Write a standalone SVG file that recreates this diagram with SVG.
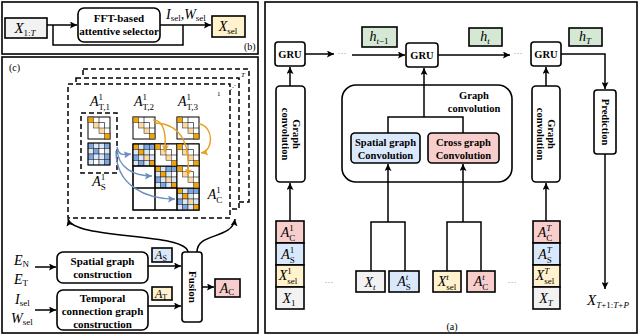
<svg xmlns="http://www.w3.org/2000/svg" width="640" height="336" viewBox="0 0 640 336">
<defs>
<style>
.pan{fill:none;stroke:#000;stroke-width:1.6}
.bx{fill:#fff;stroke:#000;stroke-width:1.6}
.ln{fill:none;stroke:#000;stroke-width:1.5}
.bl{fill:none;stroke:#6c8ebf;stroke-width:1.4}
.or{fill:none;stroke:#e8a020;stroke-width:1.4}
.t{font-family:"Liberation Serif",serif;font-weight:bold;text-anchor:middle;fill:#000}
.m{font-family:"Liberation Serif",serif;font-style:italic;text-anchor:middle;fill:#000}
.ms{font-family:"Liberation Serif",serif;font-style:italic;text-anchor:start;fill:#000}
.r{font-style:normal}
.lab{font-family:"Liberation Serif",serif;fill:#000}
.d{stroke:#000;stroke-width:1.5;stroke-dasharray:5 3}
.gy{fill:#f2f2f2}
.bu{fill:#dae8fc}
.ye{fill:#fff2cc}
.pk{fill:#f8cecc}
.gr{fill:#d5e8d4}
.c{stroke:#222;stroke-width:0.5}
.O{fill:#f0a30a}.LO{fill:#fdd9a0}.B{fill:#7ea6e0}.LB{fill:#dae8fc}.W{fill:#fff}
</style>
<marker id="ah" viewBox="0 0 10 10" refX="10" refY="5" markerWidth="7" markerHeight="7" markerUnits="userSpaceOnUse" orient="auto"><path d="M0,0 L10,5 L0,10 L2,5 z" fill="#000"/></marker>
<marker id="ahb" viewBox="0 0 10 10" refX="10" refY="5" markerWidth="7" markerHeight="7" markerUnits="userSpaceOnUse" orient="auto"><path d="M0,0 L10,5 L0,10 L2,5 z" fill="#6c8ebf"/></marker>
<marker id="aho" viewBox="0 0 10 10" refX="10" refY="5" markerWidth="7" markerHeight="7" markerUnits="userSpaceOnUse" orient="auto"><path d="M0,0 L10,5 L0,10 L2,5 z" fill="#e8a020"/></marker>
<g id="mT">
<rect x="0" y="0" width="22" height="22" fill="#fff" stroke="#000" stroke-width="1"/>
<rect class="O c" x="0" y="0" width="5.5" height="5.5"/>
<rect class="LO c" x="5.5" y="5.5" width="5.5" height="5.5"/>
<rect class="LO c" x="11" y="11" width="5.5" height="5.5"/>
<rect class="O c" x="16.5" y="16.5" width="5.5" height="5.5"/>
<path d="M11,0 V5.5 H16.5 V11 H22" fill="none" stroke="#000" stroke-width="0.6"/>
</g>
<g id="mS">
<rect class="B c" x="0" y="0" width="5.5" height="5.5"/><rect class="LB c" x="5.5" y="0" width="5.5" height="5.5"/><rect class="LB c" x="11" y="0" width="5.5" height="5.5"/><rect class="B c" x="16.5" y="0" width="5.5" height="5.5"/>
<rect class="LB c" x="0" y="5.5" width="5.5" height="5.5"/><rect class="B c" x="5.5" y="5.5" width="5.5" height="5.5"/><rect class="W c" x="11" y="5.5" width="5.5" height="5.5"/><rect class="LB c" x="16.5" y="5.5" width="5.5" height="5.5"/>
<rect class="B c" x="0" y="11" width="5.5" height="5.5"/><rect class="LB c" x="5.5" y="11" width="5.5" height="5.5"/><rect class="LB c" x="11" y="11" width="5.5" height="5.5"/><rect class="B c" x="16.5" y="11" width="5.5" height="5.5"/>
<rect class="LB c" x="0" y="16.5" width="5.5" height="5.5"/><rect class="W c" x="5.5" y="16.5" width="5.5" height="5.5"/><rect class="LB c" x="11" y="16.5" width="5.5" height="5.5"/><rect class="B c" x="16.5" y="16.5" width="5.5" height="5.5"/>
<rect x="0" y="0" width="22" height="22" fill="none" stroke="#000" stroke-width="1"/>
</g>
<g id="mC">
<rect class="O c" x="0" y="0" width="5.5" height="5.5"/><rect class="LB c" x="5.5" y="0" width="5.5" height="5.5"/><rect class="B c" x="11" y="0" width="5.5" height="5.5"/><rect class="B c" x="16.5" y="0" width="5.5" height="5.5"/>
<rect class="LB c" x="0" y="5.5" width="5.5" height="5.5"/><rect class="O c" x="5.5" y="5.5" width="5.5" height="5.5"/><rect class="LB c" x="11" y="5.5" width="5.5" height="5.5"/><rect class="W c" x="16.5" y="5.5" width="5.5" height="5.5"/>
<rect class="B c" x="0" y="11" width="5.5" height="5.5"/><rect class="LB c" x="5.5" y="11" width="5.5" height="5.5"/><rect class="LO c" x="11" y="11" width="5.5" height="5.5"/><rect class="LB c" x="16.5" y="11" width="5.5" height="5.5"/>
<rect class="LB c" x="0" y="16.5" width="5.5" height="5.5"/><rect class="B c" x="5.5" y="16.5" width="5.5" height="5.5"/><rect class="LB c" x="11" y="16.5" width="5.5" height="5.5"/><rect class="O c" x="16.5" y="16.5" width="5.5" height="5.5"/>
<rect x="0" y="0" width="22" height="22" fill="none" stroke="#000" stroke-width="1"/>
</g>
</defs>

<!-- Panel (b) -->
<g id="panel-b">
<rect class="pan" x="2" y="2" width="256" height="52"/>
<text class="lab" x="244" y="50" font-size="10">(b)</text>
</g>
<g id="node-x1T"><rect class="bx gy" x="5" y="18" width="42" height="20"/><text class="m" x="25" y="33" font-size="15">X<tspan font-size="9" dy="3"><tspan class="r">1:</tspan>T</tspan></text></g>
<g id="node-fft"><rect class="bx" x="78" y="8" width="82" height="34" rx="6"/><text class="t" x="119" y="22" font-size="11">FFT-based</text><text class="t" x="119" y="35" font-size="11">attentive selector</text></g>
<g id="node-xsel"><rect class="bx ye" x="212" y="16" width="33" height="21"/><text class="m" x="228" y="31" font-size="14">X<tspan class="r" font-size="9" dy="3">sel</tspan></text></g>
<text class="ms" x="166" y="19" font-size="14">I<tspan class="r" font-size="9" dy="2">sel</tspan><tspan class="r" dy="-2">,</tspan>W<tspan class="r" font-size="9" dy="2">sel</tspan></text>

<!-- Panel (c) -->
<g id="panel-c">
<rect class="pan" x="2" y="57" width="256" height="276"/>
<text class="lab" x="9" y="71" font-size="10">(c)</text>
<rect class="d" fill="#fff" x="83" y="69" width="166" height="133"/>
<rect class="d" fill="#fff" x="76" y="78" width="163" height="131"/>
<rect class="d" fill="#fff" x="68" y="84" width="162" height="134"/>
<text class="m" x="243" y="77" font-size="7">T</text>
<text class="lab" x="217" y="96" font-size="7">1</text>
<text class="lab" x="230" y="89" font-size="6">⋰</text>
</g>
<g id="node-AT1">
<text class="m" x="100" y="106" font-size="14">A<tspan class="r" font-size="9" dy="-6">1</tspan><tspan class="r" font-size="9" dx="-4.5" dy="10">T,1</tspan></text>
<rect class="d" fill="none" x="81" y="113" width="36" height="60"/>
<use href="#mT" x="88" y="117"/>
</g>
<g id="node-AS1">
<use href="#mS" x="88" y="143"/>
<text class="m" x="99" y="186" font-size="14">A<tspan class="r" font-size="9" dy="-6">1</tspan><tspan class="r" font-size="9" dx="-4.5" dy="10">S</tspan></text>
</g>
<g id="node-AT2">
<text class="m" x="144" y="106" font-size="14">A<tspan class="r" font-size="9" dy="-6">1</tspan><tspan class="r" font-size="9" dx="-4.5" dy="10">T,2</tspan></text>
<use href="#mT" x="133" y="117"/>
</g>
<g id="node-AT3">
<text class="m" x="188" y="106" font-size="14">A<tspan class="r" font-size="9" dy="-6">1</tspan><tspan class="r" font-size="9" dx="-4.5" dy="10">T,3</tspan></text>
<use href="#mT" x="177" y="117"/>
</g>
<g id="node-AC1">
<rect x="133" y="144" width="66" height="66" fill="#fff" stroke="#000" stroke-width="1.2"/>
<use href="#mC" x="133" y="144"/><use href="#mC" x="155" y="166"/><use href="#mC" x="177" y="188"/>
<use href="#mT" x="155" y="144"/><use href="#mT" x="177" y="144"/><use href="#mT" x="177" y="166"/>
<rect x="133" y="166" width="22" height="22" fill="none" stroke="#000" stroke-width="1"/>
<rect x="133" y="188" width="22" height="22" fill="none" stroke="#000" stroke-width="1"/>
<rect x="155" y="188" width="22" height="22" fill="none" stroke="#000" stroke-width="1"/>
<text class="m" x="215" y="199" font-size="14">A<tspan class="r" font-size="9" dy="-6">1</tspan><tspan class="r" font-size="9" dx="-4.5" dy="10">C</tspan></text>
</g>
<g id="matrix-arrows">
<path class="bl" d="M117,147 C119,156 123,155 131,154" marker-end="url(#ahb)"/>
<path class="bl" d="M117,149 C118,168 134,176 152,176" marker-end="url(#ahb)"/>
<path class="bl" d="M116,151 C116,186 146,199 175,199" marker-end="url(#ahb)"/>
<path class="or" d="M153,120 C165,120 166,136 165,152" marker-end="url(#aho)"/>
<path class="or" d="M155,123 C185,124 190,150 188,176" marker-end="url(#aho)"/>
<path class="or" d="M199,124 C214,126 214,151 201,153" marker-end="url(#aho)"/>
</g>
<g id="node-spatial"><rect class="bx" x="57" y="252" width="91" height="31" rx="6"/><text class="t" x="102.5" y="265" font-size="11">Spatial graph</text><text class="t" x="102.5" y="278" font-size="11">construction</text></g>
<g id="node-temporal"><rect class="bx" x="57" y="290" width="91" height="40" rx="6"/><text class="t" x="102.5" y="302" font-size="11">Temporal</text><text class="t" x="102.5" y="315" font-size="11">connection graph</text><text class="t" x="102.5" y="328" font-size="11">construction</text></g>
<g id="node-EN"><text class="ms" x="14" y="265" font-size="14">E<tspan class="r" font-size="9" dy="2">N</tspan></text><text class="ms" x="14" y="284" font-size="14">E<tspan class="r" font-size="9" dy="2">T</tspan></text></g>
<g id="node-Isel"><text class="ms" x="15" y="304" font-size="14">I<tspan class="r" font-size="9" dy="2">sel</tspan></text><text class="ms" x="11" y="323" font-size="14">W<tspan class="r" font-size="9" dy="2">sel</tspan></text></g>
<g id="node-AS"><rect class="bx bu" x="152" y="248" width="20" height="14"/><text class="m" x="161" y="259" font-size="12">A<tspan class="r" font-size="8" dy="2">S</tspan></text></g>
<g id="node-AT"><rect class="bx ye" x="152" y="287" width="20" height="13"/><text class="m" x="161" y="298" font-size="12">A<tspan class="r" font-size="8" dy="2">T</tspan></text></g>
<g id="node-fusion"><rect class="bx" x="182" y="252" width="20" height="70" rx="3"/><text class="t" font-size="11" transform="translate(192,287) rotate(90)" y="3.5">Fusion</text></g>
<g id="node-AC"><rect class="bx pk" x="215" y="279" width="25" height="18"/><text class="m" x="227" y="293" font-size="14">A<tspan class="r" font-size="9" dy="2">C</tspan></text></g>

<!-- Panel (a) -->
<g id="panel-a">
<rect class="pan" x="265" y="2" width="372" height="331"/>
<text class="lab" x="452" y="330" font-size="10" text-anchor="middle">(a)</text>
</g>
<g id="node-gru1"><rect class="bx" x="275" y="42" width="30" height="24" rx="3"/><text class="t" x="290" y="58" font-size="10.5">GRU</text></g>
<g id="node-gru2"><rect class="bx" x="406" y="43" width="32" height="24" rx="3"/><text class="t" x="422" y="59" font-size="10.5">GRU</text></g>
<g id="node-gru3"><rect class="bx" x="531" y="42" width="30" height="24" rx="3"/><text class="t" x="546" y="58" font-size="10.5">GRU</text></g>
<g id="node-h1"><rect class="bx gr" x="362" y="27" width="35" height="20"/><text class="m" x="379" y="41" font-size="14">h<tspan font-size="9" dy="3">t<tspan class="r">−1</tspan></tspan></text></g>
<g id="node-h2"><rect class="bx gr" x="469" y="28" width="33" height="18"/><text class="m" x="485" y="41" font-size="14">h<tspan font-size="9" dy="3">t</tspan></text></g>
<g id="node-h3"><rect class="bx gr" x="569" y="28" width="33" height="18"/><text class="m" x="585" y="41" font-size="14">h<tspan font-size="9" dy="3">T</tspan></text></g>
<g id="node-gc1"><rect class="bx" x="276" y="86" width="29" height="96" rx="4"/><text class="t" font-size="10.5" transform="translate(290.5,134) rotate(90)"><tspan x="0" y="-2">Graph</tspan><tspan x="0" y="9">convolution</tspan></text></g>
<g id="node-gc3"><rect class="bx" x="532" y="86" width="28" height="96" rx="4"/><text class="t" font-size="10.5" transform="translate(546,134) rotate(90)"><tspan x="0" y="-2">Graph</tspan><tspan x="0" y="9">convolution</tspan></text></g>
<g id="node-pred"><rect class="bx" x="594" y="90" width="22" height="64" rx="3"/><text class="t" font-size="10.5" transform="translate(605,122) rotate(90)" y="3.5">Prediction</text></g>
<g id="node-gcbig"><rect class="bx" x="342" y="85" width="170" height="97" rx="14"/><text class="t" x="474" y="99" font-size="10.5">Graph</text><text class="t" x="474" y="112" font-size="10.5">convolution</text></g>
<g id="node-sgc"><rect class="bx bu" x="351" y="133" width="69" height="30" rx="4"/><text class="t" x="385.5" y="146" font-size="10.5">Spatial graph</text><text class="t" x="385.5" y="159" font-size="10.5">Convolution</text></g>
<g id="node-cgc"><rect class="bx pk" x="428" y="133" width="71" height="30" rx="4"/><text class="t" x="463.5" y="146" font-size="10.5">Cross graph</text><text class="t" x="463.5" y="159" font-size="10.5">Convolution</text></g>
<g id="node-stack1">
<rect class="bx pk" x="276" y="221" width="28" height="22"/><rect class="bx bu" x="276" y="243" width="28" height="22"/><rect class="bx ye" x="276" y="265" width="28" height="22"/><rect class="bx gy" x="276" y="287" width="28" height="22"/>
<text class="m" x="288" y="237" font-size="14">A<tspan class="r" font-size="9" dy="-6">1</tspan><tspan class="r" font-size="9" dx="-4.5" dy="10">C</tspan></text>
<text class="m" x="288" y="259" font-size="14">A<tspan class="r" font-size="9" dy="-6">1</tspan><tspan class="r" font-size="9" dx="-4.5" dy="10">S</tspan></text>
<text class="m" x="288" y="280" font-size="14">X<tspan class="r" font-size="9" dy="-6">1</tspan><tspan class="r" font-size="9" dx="-4.5" dy="10">sel</tspan></text>
<text class="m" x="289" y="303" font-size="14">X<tspan class="r" font-size="9" dy="3">1</tspan></text>
</g>
<g id="node-stackT">
<rect class="bx pk" x="533" y="221" width="27" height="22"/><rect class="bx bu" x="533" y="243" width="27" height="22"/><rect class="bx ye" x="533" y="265" width="27" height="22"/><rect class="bx gy" x="533" y="287" width="27" height="22"/>
<text class="m" x="545" y="237" font-size="14">A<tspan font-size="9" dy="-6">T</tspan><tspan class="r" font-size="9" dx="-5" dy="10">C</tspan></text>
<text class="m" x="545" y="259" font-size="14">A<tspan font-size="9" dy="-6">T</tspan><tspan class="r" font-size="9" dx="-5" dy="10">S</tspan></text>
<text class="m" x="545" y="280" font-size="14">X<tspan font-size="9" dy="-6">T</tspan><tspan class="r" font-size="9" dx="-5" dy="10">sel</tspan></text>
<text class="m" x="546" y="303" font-size="14">X<tspan font-size="9" dy="3">T</tspan></text>
</g>
<g id="node-xt"><rect class="bx gy" x="356" y="271" width="29" height="21"/><text class="m" x="370" y="287" font-size="14">X<tspan font-size="9" dy="3">t</tspan></text></g>
<g id="node-ast"><rect class="bx bu" x="389" y="271" width="30" height="21"/><text class="m" x="404" y="286" font-size="14">A<tspan font-size="9" dy="-6">t</tspan><tspan class="r" font-size="9" dx="-2.5" dy="10">S</tspan></text></g>
<g id="node-xselt"><rect class="bx ye" x="433" y="271" width="28" height="21"/><text class="m" x="447" y="286" font-size="14">X<tspan font-size="9" dy="-6">t</tspan><tspan class="r" font-size="9" dx="-2.5" dy="10">sel</tspan></text></g>
<g id="node-act"><rect class="bx pk" x="467" y="271" width="28" height="21"/><text class="m" x="481" y="286" font-size="14">A<tspan font-size="9" dy="-6">t</tspan><tspan class="r" font-size="9" dx="-2.5" dy="10">C</tspan></text></g>
<g id="node-out"><text class="m" x="608" y="305" font-size="15">X<tspan font-size="9" dy="3">T<tspan class="r">+1:</tspan>T<tspan class="r">+</tspan>P</tspan></text></g>
<g id="dots" font-family="Liberation Serif,serif" font-size="9" fill="#777" text-anchor="middle">
<text x="342" y="56">···</text><text x="518" y="56">···</text><text x="329" y="285">···</text><text x="512" y="285">···</text>
</g>

<!-- connectors -->
<g id="connectors">
<path class="ln" d="M47,25 H77" marker-end="url(#ah)"/>
<path class="ln" d="M160,25 H211" marker-end="url(#ah)"/>
<path class="ln" d="M53,25 V45 H183 V25"/>
<path class="ln" d="M35,267 H56" marker-end="url(#ah)"/>
<path class="ln" d="M35,310 H56" marker-end="url(#ah)"/>
<path class="ln" d="M148,266 H181" marker-end="url(#ah)"/>
<path class="ln" d="M148,306 H181" marker-end="url(#ah)"/>
<path class="ln" d="M202,287 H214" marker-end="url(#ah)"/>
<path class="ln" d="M188,252 C186,232 74,240 68,219" marker-end="url(#ah)"/>
<path class="ln" d="M197,252 C197,232 232,240 235,219" marker-end="url(#ah)"/>
<path class="ln" d="M305,54 H334" marker-end="url(#ah)"/>
<path class="ln" d="M352,55 H405" marker-end="url(#ah)"/>
<path class="ln" d="M438,55 H510" marker-end="url(#ah)"/>
<path class="ln" d="M561,54 H605 V89" marker-end="url(#ah)"/>
<path class="ln" d="M290,86 V67" marker-end="url(#ah)"/>
<path class="ln" d="M546,86 V67" marker-end="url(#ah)"/>
<path class="ln" d="M290,221 V183" marker-end="url(#ah)"/>
<path class="ln" d="M546,221 V183" marker-end="url(#ah)"/>
<path class="ln" d="M388,133 V117 H463 V133"/>
<path class="ln" d="M424,117 V68" marker-end="url(#ah)"/>
<path class="ln" d="M371,271 V222 H405 V271"/>
<path class="ln" d="M388,222 V164" marker-end="url(#ah)"/>
<path class="ln" d="M447,271 V222 H481 V271"/>
<path class="ln" d="M463,222 V164" marker-end="url(#ah)"/>
<path class="ln" d="M605,154 V289" marker-end="url(#ah)"/>
</g>
</svg>
